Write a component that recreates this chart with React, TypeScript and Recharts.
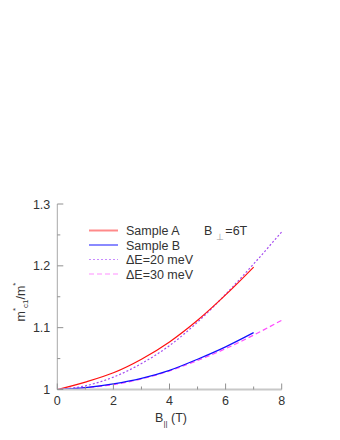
import React from 'react';
import { LineChart, Line, XAxis, YAxis } from 'recharts';

// field values B|| (T)
const bField = [0, 1, 2, 3, 4, 5, 6, 7, 8];
// measured ratios (end at 7 T)
const sampleA = [1.0, 1.012, 1.027, 1.049, 1.077, 1.112, 1.153, 1.198, null];
const sampleB = [1.0, 1.003, 1.009, 1.018, 1.031, 1.049, 1.069, 1.092, null];
// model curves
const dE20 = [1.0, 1.006, 1.02, 1.042, 1.071, 1.109, 1.154, 1.203, 1.255];
const dE30 = [1.0, 1.003, 1.008, 1.017, 1.03, 1.047, 1.066, 1.088, 1.112];

const xMajor = [0, 2, 4, 6, 8];
const xMinor = [1, 3, 5, 7];
const yMajor = [1, 1.1, 1.2, 1.3];
const yMinor = [1.05, 1.15, 1.25];

const series = [
  { key: 'dE20', name: 'ΔE=20 meV', color: '#a64cf0', dash: '2 2', legend: '#c88cff' },
  { key: 'dE30', name: 'ΔE=30 meV', color: '#ff4cff', dash: '5 3', legend: '#ff90ff' },
  { key: 'a', name: 'Sample A', color: '#ff1010', dash: undefined, legend: '#ff8a8a' },
  { key: 'b', name: 'Sample B', color: '#1010ff', dash: undefined, legend: '#8a8aff' },
];
const legendOrder = ['a', 'b', 'dE20', 'dE30'];

const data = bField.map((x, i) => ({
  x,
  a: sampleA[i],
  b: sampleB[i],
  dE20: dE20[i],
  dE30: dE30[i],
}));

const FONT = '"Liberation Sans", Arial, sans-serif';
const TICK = '#909090';
const LABEL = '#333';

const isMajor = (list: number[], v: number) => list.some((m) => Math.abs(m - v) < 1e-6);

const LeftTick = ({ x, y, payload }: any) => {
  const major = isMajor(yMajor, payload.value);
  return (
    <g>
      <line x1={x} x2={x + (major ? 6 : 3)} y1={y} y2={y} stroke={TICK} />
      {major && (
        <text x={x - 7} y={y + 4.5} textAnchor="end" fontSize={12.5} fill={LABEL} fontFamily={FONT}>
          {String(payload.value)}
        </text>
      )}
    </g>
  );
};

const RightTick = ({ x, y, payload }: any) => {
  const major = isMajor(yMajor, payload.value);
  return <line x1={x} x2={x - (major ? 6 : 3)} y1={y} y2={y} stroke={TICK} />;
};

const BottomTick = ({ x, y, payload }: any) => {
  const major = isMajor(xMajor, payload.value);
  return (
    <g>
      <line x1={x} x2={x} y1={y} y2={y - (major ? 6 : 3)} stroke={TICK} />
      {major && (
        <text x={x} y={y + 15} textAnchor="middle" fontSize={12.5} fill={LABEL} fontFamily={FONT}>
          {String(payload.value)}
        </text>
      )}
    </g>
  );
};

const TopTick = ({ x, y, payload }: any) => {
  const major = isMajor(xMajor, payload.value);
  return <line x1={x} x2={x} y1={y} y2={y + (major ? 6 : 3)} stroke={TICK} />;
};

const App = () => {
  const xTicks = [...xMajor, ...xMinor].sort((a, b) => a - b);
  const yTicks = [...yMajor, ...yMinor].sort((a, b) => a - b);
  return (
    <div style={{ position: 'absolute', left: 0, top: 0, width: 340, height: 440, background: '#fff' }}>
      <LineChart
        width={340}
        height={440}
        data={data}
        margin={{ top: 204, right: 58.3, bottom: 20.5, left: 17.3 }}
      >
        <XAxis
          dataKey="x"
          type="number"
          domain={[0, 8]}
          ticks={xTicks}
          interval={0}
          height={30}
          tickSize={0}
          tickMargin={0}
          tickLine={false}
          tick={<BottomTick />}
          axisLine={{ stroke: '#c8c8c8', strokeWidth: 2 }}
        />
        <XAxis
          xAxisId="top"
          orientation="top"
          dataKey="x"
          type="number"
          domain={[0, 8]}
          ticks={xTicks}
          interval={0}
          height={0}
          tickSize={0}
          tickMargin={0}
          tickLine={false}
          tick={<TopTick />}
          axisLine={{ stroke: '#a8a8a8' }}
        />
        <YAxis
          type="number"
          domain={[1, 1.3]}
          ticks={yTicks}
          interval={0}
          width={40}
          tickSize={0}
          tickMargin={0}
          tickLine={false}
          tick={<LeftTick />}
          axisLine={{ stroke: '#a8a8a8' }}
          allowDataOverflow
        />
        <YAxis
          yAxisId="right"
          orientation="right"
          type="number"
          domain={[1, 1.3]}
          ticks={yTicks}
          interval={0}
          width={0}
          tickSize={0}
          tickMargin={0}
          tickLine={false}
          tick={<RightTick />}
          axisLine={{ stroke: '#a8a8a8' }}
        />
        {series.map((s) => (
          <Line
            key={s.key}
            dataKey={s.key}
            name={s.name}
            type="monotone"
            stroke={s.color}
            strokeWidth={1.2}
            strokeDasharray={s.dash}
            dot={false}
            connectNulls={false}
            isAnimationActive={false}
          />
        ))}
      </LineChart>
      <svg
        width={340}
        height={440}
        style={{ position: 'absolute', left: 0, top: 0, pointerEvents: 'none' }}
        fontFamily={FONT}
      >
        {legendOrder.map((k, i) => {
          const s = series.find((d) => d.key === k)!;
          const y = 230.5 + i * 14.5;
          return (
            <g key={k}>
              <line x1={89} x2={118} y1={y} y2={y} stroke={s.legend} strokeWidth={s.dash ? 1.2 : 2} strokeDasharray={s.dash} />
              <text x={126} y={y + 4.5} fontSize={12.5} fill={LABEL}>
                {s.name}
              </text>
            </g>
          );
        })}
        <text x={204} y={235} fontSize={12.5} fill={LABEL}>
          B
          <tspan dx={4} dy={5} fontSize={9} fill="#999">⊥</tspan>
          <tspan dx={1} dy={-5}>=6T</tspan>
        </text>
        <text x={171} y={422} fontSize={12.5} fill={LABEL} textAnchor="middle">
          B<tspan dy={4} fontSize={8}>||</tspan>
          <tspan dy={-4}> (T)</tspan>
        </text>
        <text
          x={25}
          y={302}
          fontSize={12.5}
          fill={LABEL}
          textAnchor="middle"
          transform="rotate(-90 25 302)"
        >
          m<tspan dy={-7} fontSize={8}>*</tspan>
          <tspan dy={10} fontSize={8}>c1</tspan>
          <tspan dy={-3}>/m</tspan>
          <tspan dy={-7} fontSize={8}>*</tspan>
        </text>
      </svg>
    </div>
  );
};

export default App;
